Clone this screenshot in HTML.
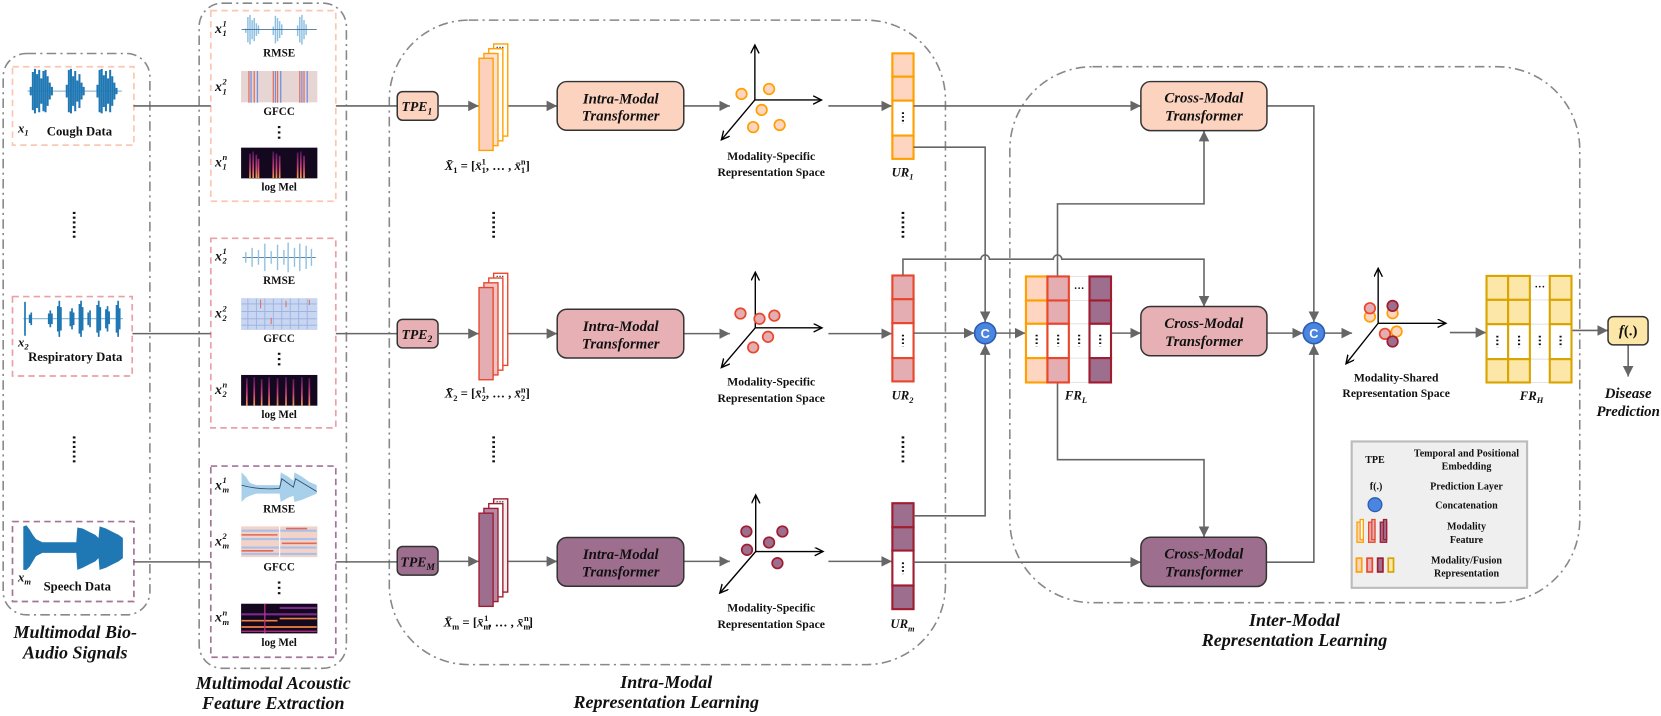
<!DOCTYPE html>
<html><head><meta charset="utf-8"><style>
html,body{margin:0;padding:0;background:#fff;}
svg{display:block;}
text{font-family:"Liberation Serif",serif;font-weight:bold;fill:#111;}
.it{font-style:italic;}
.ln{stroke:#666;stroke-width:1.5;fill:none;}
.dd{fill:none;stroke:#888;stroke-width:1.5;stroke-dasharray:9 4 2 4;}
</style></head><body>
<svg width="1661" height="716" viewBox="0 0 1568 676" preserveAspectRatio="none" xmlns="http://www.w3.org/2000/svg">
<defs>
<marker id="a" markerWidth="10" markerHeight="10" refX="10" refY="5" orient="auto" markerUnits="userSpaceOnUse"><path d="M0,0 L10,5 L0,10z" fill="#666"/></marker>
<marker id="v" markerWidth="10" markerHeight="10" refX="8" refY="4" orient="auto" markerUnits="userSpaceOnUse"><path d="M0,0 L8,4 L0,8" fill="none" stroke="#000" stroke-width="1.3"/></marker>
<linearGradient id="mel" x1="0" y1="1" x2="0" y2="0"><stop offset="0" stop-color="#f6a04a"/><stop offset="0.4" stop-color="#d0407a"/><stop offset="1" stop-color="#4a1460"/></linearGradient>
</defs>

<rect class="dd" x="3" y="50.5" width="138.5" height="530" rx="22"/>
<rect class="dd" x="188" y="3" width="139" height="628" rx="22"/>
<rect class="dd" x="367.5" y="19" width="525" height="608.5" rx="75"/>
<rect class="dd" x="953.3" y="63" width="538" height="506" rx="78"/>

<rect x="11.8" y="63" width="114.6" height="74" fill="none" stroke="#fbc7b2" stroke-width="1.6" stroke-dasharray="6 4"/>
<rect x="11.8" y="280" width="113" height="75" fill="none" stroke="#e9a0a8" stroke-width="1.6" stroke-dasharray="6 4"/>
<rect x="11.8" y="492.4" width="114.6" height="75.5" fill="none" stroke="#a3739a" stroke-width="1.6" stroke-dasharray="6 4"/>

<line x1="26" y1="86" x2="115" y2="86" stroke="#1f77b4" stroke-width="0.6"/>
<path stroke="#1f77b4" stroke-width="1.9" d="M29,82V90 M31,68V104 M33,65V107 M35,70V102 M37,66V106 M39,74V98 M41,67V105 M43,66V106 M45,72V100 M47,78V94 M49,82V90
M63,80V92 M65,66V106 M67,65V107 M69,72V100 M71,67V105 M73,76V96 M75,70V102 M77,78V94 M79,82V90
M92,80V92 M94,66V106 M96,65V107 M98,71V101 M100,67V105 M102,74V98 M104,66V106 M106,72V100 M108,78V94 M110,83V89"/>
<text x="17" y="125" class="it" font-size="12">x<tspan dy="3" font-size="8">1</tspan></text>
<text x="75" y="128" font-size="12" text-anchor="middle">Cough Data</text>

<line x1="22" y1="301" x2="116" y2="301" stroke="#1f77b4" stroke-width="0.6"/>
<path stroke="#1f77b4" stroke-width="1.6" d="M23.6,285V317 M28,297V305 M29.5,295V307 M46,296V306 M47.5,293V309 M49,296V306 M54.6,289V313 M56,284V318 M57.5,290V312 M66.4,294V308 M68,291V311 M69.5,295V307 M75,287V315 M76.5,284V318 M78,290V312 M83.3,295V307 M85,293V309 M91.7,288V314 M93.2,284V318 M94.7,290V312 M100,292V310 M101.5,289V313 M103,294V306 M110,288V314 M111.5,284V318 M113,291V311"/>
<text x="17" y="327" class="it" font-size="12">x<tspan dy="3" font-size="8">2</tspan></text>
<text x="71" y="341" font-size="12" text-anchor="middle">Respiratory Data</text>

<polygon fill="#1f77b4" points="22,497 25,496 28,500 31,505 34,509 40,512 72,512 73,498 78,499 84,502 90,505 93,508 94,497 100,499 106,502 112,505 116,508 116,527 112,530 106,533 100,536 94,538 93,527 90,530 84,533 78,536 73,538 72,522 40,522 34,525 31,530 28,535 25,538 22,538"/>
<text x="17" y="549" class="it" font-size="12">x<tspan dy="3" font-size="8">m</tspan></text>
<text x="73" y="557.5" font-size="12" text-anchor="middle">Speech Data</text>

<line x1="70" y1="200" x2="70" y2="227" stroke="#111" stroke-width="2.5" stroke-dasharray="2 2.5"/>
<line x1="70" y1="412" x2="70" y2="438" stroke="#111" stroke-width="2.5" stroke-dasharray="2 2.5"/>

<text x="71" y="602.5" class="it" font-size="17" text-anchor="middle">Multimodal Bio-</text>
<text x="71" y="621.5" class="it" font-size="17" text-anchor="middle">Audio Signals</text>

<rect x="199" y="10" width="118" height="180" fill="none" stroke="#fbc7b2" stroke-width="1.6" stroke-dasharray="6 4"/>
<rect x="199" y="225" width="118" height="179" fill="none" stroke="#e9a0a8" stroke-width="1.6" stroke-dasharray="6 4"/>
<rect x="199" y="440" width="118" height="180.5" fill="none" stroke="#a3739a" stroke-width="1.6" stroke-dasharray="6 4"/>

<path stroke="#8fc0e2" stroke-width="1.4" d="M232,27V31 M234,16V40 M236,14V42 M238,19V37 M240,17V39 M242,22V34 M244,24V32 M258,25V33 M260,15V41 M262,17V39 M264,20V36 M266,23V33 M281,24V34 M283,16V40 M285,14V42 M287,19V37 M289,23V33"/>
<line x1="228" y1="28" x2="299" y2="28" stroke="#2a5a8a" stroke-width="0.7"/>
<rect x="227.6" y="67" width="72" height="29.6" fill="#e6d5d3"/>
<path stroke-width="1.2" d="M235,67V97 M240,67V97 M258,67V97 M262,67V97 M283,67V97 M287,67V97" stroke="#e07060"/>
<path stroke-width="1.2" d="M237,67V97 M243,67V97 M260,67V97 M265,67V97 M285,67V97 M290,67V97" stroke="#7090e0"/>
<rect x="227.6" y="139.4" width="72" height="29" fill="#14081e"/>
<path stroke="url(#mel)" stroke-width="1.6" d="M236,145V168 M239,143V168 M242,146V168 M244,150V168 M258,143V168 M261,145V168 M264,147V168 M281,144V168 M284,143V168 M287,147V168"/>
<text x="263.5" y="53.5" font-size="10.5" text-anchor="middle">RMSE</text>
<text x="263.5" y="108.5" font-size="10.5" text-anchor="middle">GFCC</text>
<text x="263.5" y="180" font-size="10.5" text-anchor="middle">log Mel</text>
<line x1="263.5" y1="119" x2="263.5" y2="132" stroke="#111" stroke-width="2.4" stroke-dasharray="2 3"/>

<!-- x labels -->
<g class="it">
<text x="203" y="31" class="it" font-size="13">x</text><text x="210" y="25" font-size="8">1</text><text x="210" y="34" font-size="8">1</text>
<text x="203" y="86" class="it" font-size="13">x</text><text x="210" y="80" font-size="8">2</text><text x="210" y="89" font-size="8">1</text>
<text x="203" y="157" class="it" font-size="13">x</text><text x="210" y="151" class="it" font-size="8">n</text><text x="210" y="160" font-size="8">1</text>
<text x="203" y="246" class="it" font-size="13">x</text><text x="210" y="240" font-size="8">1</text><text x="210" y="249" font-size="8">2</text>
<text x="203" y="300" class="it" font-size="13">x</text><text x="210" y="294" font-size="8">2</text><text x="210" y="303" font-size="8">2</text>
<text x="203" y="372" class="it" font-size="13">x</text><text x="210" y="366" class="it" font-size="8">n</text><text x="210" y="375" font-size="8">2</text>
<text x="203" y="462" class="it" font-size="13">x</text><text x="210" y="456" font-size="8">1</text><text x="210" y="465" class="it" font-size="8">m</text>
<text x="203" y="515" class="it" font-size="13">x</text><text x="210" y="509" font-size="8">2</text><text x="210" y="518" class="it" font-size="8">m</text>
<text x="203" y="587" class="it" font-size="13">x</text><text x="210" y="581" class="it" font-size="8">n</text><text x="210" y="590" class="it" font-size="8">m</text>
</g>

<line x1="229" y1="243" x2="298" y2="243" stroke="#2a5a8a" stroke-width="0.7"/>
<path stroke="#8fc0e2" stroke-width="1.3" d="M232,238V248 M238,234V252 M244,236V250 M250,230V256 M256,237V249 M262,231V255 M268,236V250 M272,229V257 M278,234V252 M283,230V256 M289,232V254 M294,235V251"/>
<rect x="227.6" y="281.5" width="72" height="30" fill="#c8d6f2"/>
<path stroke="#9ab0e0" stroke-width="0.8" d="M228,287H299 M228,294H299 M228,301H299 M228,307H299 M234,282V311 M242,282V311 M250,282V311 M258,282V311 M266,282V311 M274,282V311 M282,282V311 M290,282V311"/>
<path stroke="#e07060" stroke-width="1" d="M246,283V291 M270,284V290 M292,283V288 M256,300V306"/>
<rect x="227.6" y="354" width="72" height="29" fill="#14081e"/>
<path stroke="url(#mel)" stroke-width="1.6" d="M233,357V383 M240,356V383 M247,358V383 M254,356V383 M262,357V383 M270,356V383 M277,358V383 M285,356V383 M292,357V383"/>
<text x="263.5" y="268" font-size="10.5" text-anchor="middle">RMSE</text>
<text x="263.5" y="323" font-size="10.5" text-anchor="middle">GFCC</text>
<text x="263.5" y="394.5" font-size="10.5" text-anchor="middle">log Mel</text>
<line x1="263.5" y1="333" x2="263.5" y2="346" stroke="#111" stroke-width="2.4" stroke-dasharray="2 3"/>

<polygon fill="#a9d0ea" points="228,446 232,450 236,456 242,458 264,458 265,446 272,450 277,454 278,446 285,450 292,455 299,458 299,466 292,469 285,472 278,474 277,468 272,470 265,474 264,466 242,466 236,468 232,470 228,474"/>
<path d="M228,458 Q245,463 264,461 L266,452 L277,460 L279,452 L299,464" stroke="#2a4a6a" stroke-width="0.8" fill="none"/>
<rect x="227.6" y="497" width="72" height="29" fill="#f3d2c8"/>
<path stroke="#a8c0ea" stroke-width="2" d="M228,501H299 M228,509H299 M228,517H299 M228,523H299"/>
<path stroke="#e06a55" stroke-width="1.5" d="M228,505H262 M266,513H299 M228,520H258 M270,499H290"/>
<line x1="264" y1="497" x2="264" y2="526" stroke="#fff" stroke-width="1"/>
<rect x="227.6" y="570" width="72" height="28" fill="#14081e"/>
<path stroke="#7a2a8a" stroke-width="2" d="M228,580H299 M264,574H299"/>
<path stroke="#f08040" stroke-width="1.6" d="M228,592H299 M264,584H299 M228,586H262"/>
<path stroke="#c0308a" stroke-width="1.2" d="M228,596H299 M250,570V598"/>
<text x="263.5" y="484" font-size="10.5" text-anchor="middle">RMSE</text>
<text x="263.5" y="538.6" font-size="10.5" text-anchor="middle">GFCC</text>
<text x="263.5" y="609.7" font-size="10.5" text-anchor="middle">log Mel</text>
<line x1="263.5" y1="549" x2="263.5" y2="562" stroke="#111" stroke-width="2.4" stroke-dasharray="2 3"/>

<text x="258" y="650.6" class="it" font-size="17" text-anchor="middle">Multimodal Acoustic</text>
<text x="258" y="669.5" class="it" font-size="17" text-anchor="middle">Feature Extraction</text>

<path class="ln" d="M126,100H199 M317,100H375 M125,315H199 M317,315H375 M126,530.5H199 M317,530.5H375"/>

<rect x="375" y="86.5" width="38.5" height="27" rx="5" fill="#fcd3bf" stroke="#333" stroke-width="1.4"/>
<rect x="375" y="301.5" width="38.5" height="27" rx="5" fill="#e6b0b4" stroke="#333" stroke-width="1.4"/>
<rect x="375" y="516" width="38.5" height="27" rx="5" fill="#9e6e8e" stroke="#333" stroke-width="1.4"/>
<text x="379" y="105" class="it" font-size="13">TPE<tspan dy="3" font-size="9">1</tspan></text>
<text x="379" y="320" class="it" font-size="13">TPE<tspan dy="3" font-size="9">2</tspan></text>
<text x="378" y="535" class="it" font-size="13">TPE<tspan dy="3" font-size="9">M</tspan></text>

<path class="ln" marker-end="url(#a)" d="M413.5,100H452"/>
<path class="ln" marker-end="url(#a)" d="M413.5,315H452"/>
<path class="ln" marker-end="url(#a)" d="M413.5,530H452"/>
<path class="ln" marker-end="url(#a)" d="M466,100H526"/>
<path class="ln" marker-end="url(#a)" d="M466,315H526"/>
<path class="ln" marker-end="url(#a)" d="M466,530H526"/>
<path class="ln" marker-end="url(#a)" d="M645.5,100H689"/>
<path class="ln" marker-end="url(#a)" d="M645.5,315H689"/>
<path class="ln" marker-end="url(#a)" d="M645.5,530H689"/>
<path class="ln" marker-end="url(#a)" d="M782,100H842"/>
<path class="ln" marker-end="url(#a)" d="M782,315H842"/>
<path class="ln" marker-end="url(#a)" d="M782,530H842"/>

<g stroke="#ffa000" stroke-width="1.3">
<rect x="466" y="41.5" width="13.3" height="87" fill="#fff"/>
<rect x="461.4" y="46" width="13.3" height="87" fill="#fff"/>
<rect x="456.8" y="50.5" width="13.3" height="87" fill="#fde2d4"/>
<rect x="452.2" y="55" width="13.3" height="87" fill="#fdd0bb"/>
</g>
<text x="472" y="47" font-size="8" text-anchor="middle">···</text>
<g stroke="#e8472c" stroke-width="1.3">
<rect x="466" y="258" width="13.3" height="87" fill="#fff"/>
<rect x="461.4" y="262.5" width="13.3" height="87" fill="#fff"/>
<rect x="456.8" y="267" width="13.3" height="87" fill="#eec4c6"/>
<rect x="452.2" y="271.5" width="13.3" height="87" fill="#e3adb2"/>
</g>
<text x="472" y="263.5" font-size="8" text-anchor="middle">···</text>
<g stroke="#a01c30" stroke-width="1.3">
<rect x="466" y="471" width="13.3" height="88" fill="#eee"/>
<rect x="461.4" y="475.5" width="13.3" height="88" fill="#fff"/>
<rect x="456.8" y="480" width="13.3" height="88" fill="#b58aa6"/>
<rect x="452.2" y="484.5" width="13.3" height="88" fill="#9e6e8e"/>
</g>
<text x="472" y="476.5" font-size="8" text-anchor="middle">···</text>

<text x="460" y="160.5" font-size="12" text-anchor="middle"><tspan class="it">X̄</tspan><tspan dy="3" font-size="8">1</tspan><tspan dy="-3"> = [</tspan><tspan class="it">x̄</tspan><tspan dy="3" font-size="8">1</tspan><tspan dy="-8" dx="-4" font-size="8">1</tspan><tspan dy="5">, … , </tspan><tspan class="it">x̄</tspan><tspan dy="3" font-size="8">1</tspan><tspan dy="-8" dx="-4" font-size="8">n</tspan><tspan dy="5">]</tspan></text>
<text x="460" y="375.5" font-size="12" text-anchor="middle"><tspan class="it">X̄</tspan><tspan dy="3" font-size="8">2</tspan><tspan dy="-3"> = [</tspan><tspan class="it">x̄</tspan><tspan dy="3" font-size="8">2</tspan><tspan dy="-8" dx="-4" font-size="8">1</tspan><tspan dy="5">, … , </tspan><tspan class="it">x̄</tspan><tspan dy="3" font-size="8">2</tspan><tspan dy="-8" dx="-4" font-size="8">n</tspan><tspan dy="5">]</tspan></text>
<text x="461" y="591.5" font-size="12" text-anchor="middle"><tspan class="it">X̄</tspan><tspan dy="3" font-size="8">m</tspan><tspan dy="-3"> = [</tspan><tspan class="it">x̄</tspan><tspan dy="3" font-size="8">m</tspan><tspan dy="-8" dx="-6" font-size="8">1</tspan><tspan dy="5">, … , </tspan><tspan class="it">x̄</tspan><tspan dy="3" font-size="8">m</tspan><tspan dy="-8" dx="-6" font-size="8">n</tspan><tspan dy="5">]</tspan></text>
<line x1="466" y1="200" x2="466" y2="227" stroke="#111" stroke-width="2.5" stroke-dasharray="2 2.5"/>
<line x1="466" y1="412" x2="466" y2="438" stroke="#111" stroke-width="2.5" stroke-dasharray="2 2.5"/>

<rect x="526" y="77" width="119.5" height="46" rx="9" fill="#fcd3bf" stroke="#333" stroke-width="1.4"/>
<rect x="526" y="292" width="119.5" height="46" rx="9" fill="#e6b0b4" stroke="#333" stroke-width="1.4"/>
<rect x="526" y="507.5" width="119.5" height="46" rx="9" fill="#9e6e8e" stroke="#333" stroke-width="1.4"/>
<g font-size="14" text-anchor="middle">
<text x="586" y="97.5" class="it">Intra-Modal</text><text x="586" y="114" class="it">Transformer</text>
<text x="586" y="312.5" class="it">Intra-Modal</text><text x="586" y="329" class="it">Transformer</text>
<text x="586" y="528" class="it">Intra-Modal</text><text x="586" y="544.5" class="it">Transformer</text>
</g>

<g stroke="#000" stroke-width="1.3" fill="none">
<path marker-end="url(#v)" d="M712.6,94.4V42.5"/><path marker-end="url(#v)" d="M712.6,94.4H775.5"/><path marker-end="url(#v)" d="M712.6,94.4L681,132"/>
<path marker-end="url(#v)" d="M713,309.5V257"/><path marker-end="url(#v)" d="M713,309.5H776"/><path marker-end="url(#v)" d="M713,309.5L681,347"/>
<path marker-end="url(#v)" d="M713.4,520.7V467.3"/><path marker-end="url(#v)" d="M713.4,520.7H777"/><path marker-end="url(#v)" d="M713.4,520.7L679.5,560"/>
</g>
<g fill="#fdd5c1" stroke="#ffa000" stroke-width="1.6">
<circle cx="700" cy="88.7" r="5"/><circle cx="726" cy="84" r="5"/><circle cx="719" cy="103.8" r="5"/><circle cx="711" cy="120" r="5"/><circle cx="736" cy="118" r="5"/>
</g>
<g fill="#e3adb2" stroke="#e8472c" stroke-width="1.6">
<circle cx="699" cy="296" r="5"/><circle cx="717" cy="301" r="5"/><circle cx="731" cy="298" r="5"/><circle cx="725" cy="318" r="5"/><circle cx="711" cy="328" r="5"/>
</g>
<g fill="#9e6e8e" stroke="#a01c30" stroke-width="1.6">
<circle cx="704.6" cy="501.8" r="5"/><circle cx="738.6" cy="501.8" r="5"/><circle cx="726" cy="512.2" r="5"/><circle cx="705.2" cy="519.1" r="5"/><circle cx="733.9" cy="531.7" r="5"/>
</g>
<g font-size="11" text-anchor="middle">
<text x="728" y="151">Modality-Specific</text><text x="728" y="166">Representation Space</text>
<text x="728" y="364">Modality-Specific</text><text x="728" y="379.5">Representation Space</text>
<text x="728" y="577.3">Modality-Specific</text><text x="728" y="593">Representation Space</text>
</g>

<g stroke="#ffa000" stroke-width="2" fill="#fdd5c1">
<rect x="842.4" y="50.4" width="20" height="22"/><rect x="842.4" y="72.4" width="20" height="22.6"/><rect x="842.4" y="95" width="20" height="33" fill="#fff"/><rect x="842.4" y="128" width="20" height="22"/>
</g>
<g stroke="#e8472c" stroke-width="2" fill="#e3adb2">
<rect x="842.4" y="260.1" width="20" height="22.4"/><rect x="842.4" y="282.5" width="20" height="22.6"/><rect x="842.4" y="305.1" width="20" height="33" fill="#fff"/><rect x="842.4" y="338.1" width="20" height="22"/>
</g>
<g stroke="#a01c30" stroke-width="2" fill="#9e6e8e">
<rect x="842.4" y="475.1" width="20" height="22.7"/><rect x="842.4" y="497.8" width="20" height="22"/><rect x="842.4" y="519.8" width="20" height="33" fill="#fff"/><rect x="842.4" y="552.8" width="20" height="22.3"/>
</g>
<g stroke="#111" stroke-width="2" stroke-dasharray="1.6 2">
<line x1="852.4" y1="106" x2="852.4" y2="117"/><line x1="852.4" y1="316" x2="852.4" y2="327"/><line x1="852.4" y1="531" x2="852.4" y2="542"/>
</g>
<text x="852" y="166.7" class="it" font-size="12" text-anchor="middle">UR<tspan dy="3" font-size="8">1</tspan></text>
<text x="852" y="377.4" class="it" font-size="12" text-anchor="middle">UR<tspan dy="3" font-size="8">2</tspan></text>
<text x="852" y="593" class="it" font-size="12" text-anchor="middle">UR<tspan dy="3" font-size="8">m</tspan></text>
<line x1="852.4" y1="200" x2="852.4" y2="227" stroke="#111" stroke-width="2.5" stroke-dasharray="2 2.5"/>
<line x1="852.4" y1="412" x2="852.4" y2="438" stroke="#111" stroke-width="2.5" stroke-dasharray="2 2.5"/>

<path class="ln" marker-end="url(#a)" d="M862.4,100H1077"/>
<path class="ln" marker-end="url(#a)" d="M862.4,139H930V304"/>
<path class="ln" marker-end="url(#a)" d="M862.4,487H930V325"/>
<path class="ln" marker-end="url(#a)" d="M862.4,314.5H920"/>
<path class="ln" marker-end="url(#a)" d="M940,314.5H968"/>
<path class="ln" marker-end="url(#a)" d="M1048.8,314.5H1077"/>
<path class="ln" marker-end="url(#a)" d="M998.3,261V192.5H1136.6V123.5"/>
<path class="ln" marker-end="url(#a)" d="M852.4,260V244.7H926a4,4 0 0 1 8,0H994.3a4,4 0 0 1 8,0H1136.6V289.5"/>
<path class="ln" marker-end="url(#a)" d="M998.3,361V434H1136.6V507"/>
<path class="ln" marker-end="url(#a)" d="M862.4,530.8H1077"/>
<path class="ln" marker-end="url(#a)" d="M1196,100H1240.3V304"/>
<path class="ln" marker-end="url(#a)" d="M1196,314.5H1230"/>
<path class="ln" marker-end="url(#a)" d="M1195.5,530.8H1240.3V325"/>
<path class="ln" marker-end="url(#a)" d="M1250.5,314.5H1276.4"/>
<path class="ln" marker-end="url(#a)" d="M1368.7,314H1403"/>
<path class="ln" marker-end="url(#a)" d="M1483.5,312H1518"/>
<path class="ln" marker-end="url(#a)" d="M1537,325.6V355.5"/>

<circle cx="930" cy="314.5" r="10" fill="#4a86e0" stroke="#2a5cb0" stroke-width="1.5"/>
<text x="930" y="319" style="font-family:'Liberation Sans',sans-serif;fill:#fff" font-size="12" text-anchor="middle">C</text>
<circle cx="1240.3" cy="314.5" r="10" fill="#4a86e0" stroke="#2a5cb0" stroke-width="1.5"/>
<text x="1240.3" y="319" style="font-family:'Liberation Sans',sans-serif;fill:#fff" font-size="12" text-anchor="middle">C</text>

<g stroke-width="2">
<rect x="968.5" y="261" width="20.3" height="22.7" fill="#fdd5c1" stroke="#ffa000"/><rect x="968.5" y="283.7" width="20.3" height="22" fill="#fdd5c1" stroke="#ffa000"/><rect x="968.5" y="305.7" width="20.3" height="32.4" fill="#fff" stroke="#ffa000"/><rect x="968.5" y="338.1" width="20.3" height="23" fill="#fdd5c1" stroke="#ffa000"/>
<rect x="1009" y="261" width="19.5" height="100" fill="#fff" stroke="#e4e4e4" stroke-width="1"/>
<path d="M1009,283.7H1028.5M1009,305.7H1028.5M1009,338.1H1028.5" stroke="#e4e4e4" stroke-width="1"/>
<rect x="988.8" y="261" width="20.2" height="22.7" fill="#e3adb2" stroke="#e8472c"/><rect x="988.8" y="283.7" width="20.2" height="22" fill="#e3adb2" stroke="#e8472c"/><rect x="988.8" y="305.7" width="20.2" height="32.4" fill="#fff" stroke="#e8472c"/><rect x="988.8" y="338.1" width="20.2" height="23" fill="#e3adb2" stroke="#e8472c"/>
<rect x="1028.5" y="261" width="20.3" height="22.7" fill="#9e6e8e" stroke="#a01c30"/><rect x="1028.5" y="283.7" width="20.3" height="22" fill="#9e6e8e" stroke="#a01c30"/><rect x="1028.5" y="305.7" width="20.3" height="32.4" fill="#fff" stroke="#a01c30"/><rect x="1028.5" y="338.1" width="20.3" height="23" fill="#9e6e8e" stroke="#a01c30"/>
</g>
<text x="1018.7" y="275" font-size="10" text-anchor="middle">···</text>
<g stroke="#111" stroke-width="2" stroke-dasharray="1.6 2">
<line x1="978.6" y1="316" x2="978.6" y2="327"/><line x1="998.9" y1="316" x2="998.9" y2="327"/><line x1="1018.7" y1="316" x2="1018.7" y2="327"/><line x1="1038.6" y1="316" x2="1038.6" y2="327"/>
</g>
<text x="1015.7" y="377.4" class="it" font-size="12" text-anchor="middle">FR<tspan dy="3" font-size="8">L</tspan></text>

<rect x="1077" y="77" width="119" height="46.3" rx="9" fill="#fcd3bf" stroke="#333" stroke-width="1.4"/>
<rect x="1077" y="289.4" width="119" height="46.5" rx="9" fill="#e6b0b4" stroke="#333" stroke-width="1.4"/>
<rect x="1077" y="507.2" width="118.5" height="46.5" rx="9" fill="#9e6e8e" stroke="#333" stroke-width="1.4"/>
<g font-size="14" text-anchor="middle">
<text x="1136.5" y="97" class="it">Cross-Modal</text><text x="1136.5" y="114" class="it">Transformer</text>
<text x="1136.5" y="309.5" class="it">Cross-Modal</text><text x="1136.5" y="326.5" class="it">Transformer</text>
<text x="1136.5" y="527.5" class="it">Cross-Modal</text><text x="1136.5" y="544.5" class="it">Transformer</text>
</g>

<g stroke="#000" stroke-width="1.3" fill="none">
<path marker-end="url(#v)" d="M1301,305.2V253.3"/><path marker-end="url(#v)" d="M1301,305.2H1365"/><path marker-end="url(#v)" d="M1301,305.2L1270.6,343.5"/>
</g>
<g stroke-width="1.6">
<circle cx="1293.2" cy="298.9" r="5" fill="#fdd5c1" stroke="#ffa000"/><circle cx="1293.2" cy="291" r="5" fill="#e3adb2" stroke="#e8472c"/>
<circle cx="1314.6" cy="295.7" r="5" fill="#fdd5c1" stroke="#ffa000"/><circle cx="1314.6" cy="288.8" r="5" fill="#9e6e8e" stroke="#a01c30"/>
<circle cx="1318.4" cy="313" r="5" fill="#fdd5c1" stroke="#ffa000"/><circle cx="1307.4" cy="315.2" r="5" fill="#e3adb2" stroke="#e8472c"/><circle cx="1314.6" cy="322.4" r="5" fill="#9e6e8e" stroke="#a01c30"/>
</g>
<text x="1318" y="360.2" font-size="11" text-anchor="middle">Modality-Shared</text>
<text x="1318" y="375" font-size="11" text-anchor="middle">Representation Space</text>

<rect x="1444.2" y="260.5" width="18.8" height="100.6" fill="#fff" stroke="#e4e4e4" stroke-width="1"/>
<path d="M1444.2,283.1H1463M1444.2,306.1H1463M1444.2,339.1H1463" stroke="#e4e4e4" stroke-width="1"/>
<g stroke="#d9a400" stroke-width="2" fill="#fde7a8">
<rect x="1403.3" y="260.5" width="20.4" height="22.6"/><rect x="1403.3" y="283.1" width="20.4" height="23"/><rect x="1403.3" y="306.1" width="20.4" height="33" fill="#fff"/><rect x="1403.3" y="339.1" width="20.4" height="22"/>
<rect x="1423.7" y="260.5" width="20.5" height="22.6"/><rect x="1423.7" y="283.1" width="20.5" height="23"/><rect x="1423.7" y="306.1" width="20.5" height="33" fill="#fff"/><rect x="1423.7" y="339.1" width="20.5" height="22"/>
<rect x="1463" y="260.5" width="20.5" height="22.6"/><rect x="1463" y="283.1" width="20.5" height="23"/><rect x="1463" y="306.1" width="20.5" height="33" fill="#fff"/><rect x="1463" y="339.1" width="20.5" height="22"/>
</g>
<text x="1453.6" y="274" font-size="10" text-anchor="middle">···</text>
<g stroke="#111" stroke-width="2" stroke-dasharray="1.6 2">
<line x1="1413.5" y1="317" x2="1413.5" y2="328"/><line x1="1434" y1="317" x2="1434" y2="328"/><line x1="1453.6" y1="317" x2="1453.6" y2="328"/><line x1="1473.2" y1="317" x2="1473.2" y2="328"/>
</g>
<text x="1445.8" y="377.5" class="it" font-size="12" text-anchor="middle">FR<tspan dy="3" font-size="8">H</tspan></text>

<rect x="1518" y="298.9" width="37.8" height="26.7" rx="5" fill="#fde7a8" stroke="#333" stroke-width="1.4"/>
<text x="1537" y="317" font-size="14" text-anchor="middle"><tspan class="it">f</tspan>(.)</text>
<text x="1537" y="375.9" class="it" font-size="14" text-anchor="middle">Disease</text>
<text x="1537" y="392.6" class="it" font-size="14" text-anchor="middle">Prediction</text>

<rect x="1276" y="416.8" width="165.6" height="138.2" fill="#efefef" stroke="#bbb" stroke-width="2"/>
<g font-size="9.5" text-anchor="middle">
<text x="1298" y="437">TPE</text>
<text x="1384.4" y="431">Temporal and Positional</text>
<text x="1384.4" y="443.5">Embedding</text>
<text x="1299" y="462">f(.)</text>
<text x="1384.4" y="462">Prediction Layer</text>
<text x="1384.4" y="480">Concatenation</text>
<text x="1384.4" y="500">Modality</text>
<text x="1384.4" y="512.5">Feature</text>
<text x="1384.4" y="532">Modality/Fusion</text>
<text x="1384.4" y="544.5">Representation</text>
</g>
<circle cx="1298" cy="476.5" r="6.5" fill="#4a86e0" stroke="#2a5cb0" stroke-width="1.2"/>
<g stroke-width="1.2">
<rect x="1281" y="493" width="6" height="19" fill="#fdd5c1" stroke="#ffa000"/><rect x="1284" y="490.5" width="3" height="19" fill="#fff" stroke="#ffa000"/>
<rect x="1292" y="493" width="6" height="19" fill="#e3adb2" stroke="#e8472c"/><rect x="1295" y="490.5" width="3" height="19" fill="#e3adb2" stroke="#e8472c"/>
<rect x="1303" y="493" width="6" height="19" fill="#9e6e8e" stroke="#a01c30"/><rect x="1306" y="490.5" width="3" height="19" fill="#9e6e8e" stroke="#a01c30"/>
<rect x="1280.5" y="527" width="5" height="13" fill="#fdd5c1" stroke="#ffa000" stroke-width="1.6"/>
<rect x="1290.5" y="527" width="5" height="13" fill="#e3adb2" stroke="#e8472c" stroke-width="1.6"/>
<rect x="1300.5" y="527" width="5" height="13" fill="#9e6e8e" stroke="#a01c30" stroke-width="1.6"/>
<rect x="1310.5" y="527" width="5" height="13" fill="#fde7a8" stroke="#d9a400" stroke-width="1.6"/>
</g>

<text x="629" y="649.6" class="it" font-size="17" text-anchor="middle">Intra-Modal</text>
<text x="629" y="668.5" class="it" font-size="17" text-anchor="middle">Representation Learning</text>
<text x="1222" y="590.8" class="it" font-size="17" text-anchor="middle">Inter-Modal</text>
<text x="1222" y="609.7" class="it" font-size="17" text-anchor="middle">Representation Learning</text>
</svg>
</body></html>
